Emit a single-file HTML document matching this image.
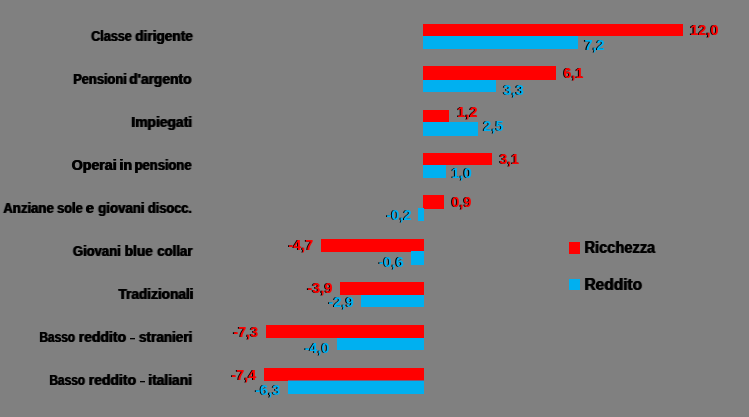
<!DOCTYPE html>
<html><head><meta charset="utf-8"><style>
html,body{margin:0;padding:0;}
body{width:749px;height:417px;background:#808080;position:relative;overflow:hidden;font-family:"Liberation Sans",sans-serif;font-weight:bold;}
.t{position:absolute;white-space:pre;line-height:1;transform-origin:0 0;text-shadow:-1px 0 0 #000;will-change:transform;}
svg{position:absolute;left:0;top:0;}
</style></head><body>
<svg width="749" height="417" viewBox="0 0 749 417">
<rect x="423" y="24" width="260" height="12" fill="#FF0000"/>
<rect x="423" y="36" width="155" height="13" fill="#00B0F0"/>
<rect x="423" y="66" width="133" height="14" fill="#FF0000"/>
<rect x="423" y="80" width="73" height="12" fill="#00B0F0"/>
<rect x="423" y="110" width="26" height="12" fill="#FF0000"/>
<rect x="423" y="122" width="55" height="14" fill="#00B0F0"/>
<rect x="423" y="153" width="69" height="12" fill="#FF0000"/>
<rect x="423" y="165" width="23" height="13" fill="#00B0F0"/>
<rect x="423" y="195" width="21" height="14" fill="#FF0000"/>
<rect x="418" y="208" width="6" height="13" fill="#00B0F0"/>
<rect x="321" y="239" width="103" height="13" fill="#FF0000"/>
<rect x="411" y="251" width="13" height="14" fill="#00B0F0"/>
<rect x="340" y="282" width="84" height="13" fill="#FF0000"/>
<rect x="361" y="295" width="63" height="12" fill="#00B0F0"/>
<rect x="266" y="325" width="158" height="13" fill="#FF0000"/>
<rect x="337" y="338" width="87" height="12" fill="#00B0F0"/>
<rect x="264" y="368" width="160" height="13" fill="#FF0000"/>
<rect x="288" y="380.5" width="136" height="13.5" fill="#00B0F0"/>
<rect x="569" y="242" width="11" height="12" fill="#FF0000"/>
<rect x="569" y="279" width="11" height="11" fill="#00B0F0"/>
<rect x="130" y="338" width="5" height="1.3" fill="#000"/>
<rect x="140" y="381" width="5" height="1.3" fill="#000"/>
</svg>
<div class="t" style="left:91px;top:29px;font-size:14px;color:#000;transform:translateX(0.61px) scaleX(0.9007)">Classe</div>
<div class="t" style="left:135px;top:29px;font-size:14px;color:#000;transform:translateX(0.69px) scaleX(0.9756)">dirigente</div>
<div class="t" style="left:73px;top:72px;font-size:14px;color:#000;transform:translateX(0.70px) scaleX(0.9174)">Pensioni</div>
<div class="t" style="left:129px;top:72px;font-size:14px;color:#000;transform:translateX(0.69px) scaleX(0.9845)">d'argento</div>
<div class="t" style="left:131px;top:115px;font-size:14px;color:#000;transform:translateX(0.79px) scaleX(0.9899)">Impiegati</div>
<div class="t" style="left:72px;top:158px;font-size:14px;color:#000;transform:translateX(0.35px) scaleX(1.0080)">Operai</div>
<div class="t" style="left:120px;top:158px;font-size:14px;color:#000;transform:translateX(0.00px) scaleX(1.0044)">in</div>
<div class="t" style="left:135px;top:158px;font-size:14px;color:#000;transform:translateX(0.08px) scaleX(0.9261)">pensione</div>
<div class="t" style="left:3px;top:201px;font-size:14px;color:#000;transform:translateX(0.78px) scaleX(0.9399)">Anziane</div>
<div class="t" style="left:57px;top:201px;font-size:14px;color:#000;transform:translateX(0.54px) scaleX(0.9157)">sole</div>
<div class="t" style="left:86px;top:201px;font-size:14px;color:#000;transform:translateX(0.39px) scaleX(1.0275)">e</div>
<div class="t" style="left:98px;top:201px;font-size:14px;color:#000;transform:translateX(0.66px) scaleX(0.9472)">giovani</div>
<div class="t" style="left:148px;top:201px;font-size:14px;color:#000;transform:translateX(0.36px) scaleX(0.9130)">disocc.</div>
<div class="t" style="left:73px;top:244px;font-size:14px;color:#000;transform:translateX(0.36px) scaleX(0.9315)">Giovani</div>
<div class="t" style="left:125px;top:244px;font-size:14px;color:#000;transform:translateX(0.21px) scaleX(0.9724)">blue</div>
<div class="t" style="left:157px;top:244px;font-size:14px;color:#000;transform:translateX(0.70px) scaleX(0.9431)">collar</div>
<div class="t" style="left:118px;top:287px;font-size:14px;color:#000;transform:translateX(0.94px) scaleX(0.9748)">Tradizionali</div>
<div class="t" style="left:39px;top:330px;font-size:14px;color:#000;transform:translateX(0.85px) scaleX(0.8459)">Basso</div>
<div class="t" style="left:79px;top:330px;font-size:14px;color:#000;transform:translateX(0.26px) scaleX(0.9961)">reddito</div>
<div class="t" style="left:139px;top:330px;font-size:14px;color:#000;transform:translateX(0.42px) scaleX(0.9669)">stranieri</div>
<div class="t" style="left:49px;top:373px;font-size:14px;color:#000;transform:translateX(0.85px) scaleX(0.8459)">Basso</div>
<div class="t" style="left:89px;top:373px;font-size:14px;color:#000;transform:translateX(0.26px) scaleX(0.9961)">reddito</div>
<div class="t" style="left:148px;top:373px;font-size:14px;color:#000;transform:translateX(0.70px) scaleX(0.9870)">italiani</div>
<div class="t" style="left:690px;top:23px;font-size:14px;color:#FF0000;transform:translateX(0.13px) scaleX(1.0453)">12,0</div>
<div class="t" style="left:584px;top:38px;font-size:14px;color:#00B0F0;transform:translateX(0.40px) scaleX(1.0455)">7,2</div>
<div class="t" style="left:563px;top:66px;font-size:14px;color:#FF0000;transform:translateX(0.47px) scaleX(1.0292)">6,1</div>
<div class="t" style="left:503px;top:83px;font-size:14px;color:#00B0F0;transform:translateX(0.34px) scaleX(1.0567)">3,3</div>
<div class="t" style="left:457px;top:105px;font-size:14px;color:#FF0000;transform:translateX(0.27px) scaleX(1.0442)">1,2</div>
<div class="t" style="left:483px;top:119px;font-size:14px;color:#00B0F0;transform:translateX(0.34px) scaleX(1.0421)">2,5</div>
<div class="t" style="left:499px;top:152px;font-size:14px;color:#FF0000;transform:translateX(0.45px) scaleX(1.0145)">3,1</div>
<div class="t" style="left:451px;top:166px;font-size:14px;color:#00B0F0;transform:translateX(0.49px) scaleX(1.0414)">1,0</div>
<div class="t" style="left:451px;top:195px;font-size:14px;color:#FF0000;transform:translateX(0.55px) scaleX(1.0273)">0,9</div>
<div class="t" style="left:386px;top:208px;font-size:14px;color:#00B0F0;transform:translateX(0.48px) scaleX(1.0461)">-0,2</div>
<div class="t" style="left:288px;top:238px;font-size:14px;color:#FF0000;transform:translateX(0.47px) scaleX(1.0251)">-4,7</div>
<div class="t" style="left:378px;top:255px;font-size:14px;color:#00B0F0;transform:translateX(0.78px) scaleX(1.0315)">-0,6</div>
<div class="t" style="left:307px;top:281px;font-size:14px;color:#FF0000;transform:translateX(0.40px) scaleX(1.0459)">-3,9</div>
<div class="t" style="left:328px;top:295px;font-size:14px;color:#00B0F0;transform:translateX(0.61px) scaleX(1.0419)">-2,9</div>
<div class="t" style="left:233px;top:325px;font-size:14px;color:#FF0000;transform:translateX(0.40px) scaleX(1.0354)">-7,3</div>
<div class="t" style="left:304px;top:341px;font-size:14px;color:#00B0F0;transform:translateX(0.84px) scaleX(1.0143)">-4,0</div>
<div class="t" style="left:231px;top:368px;font-size:14px;color:#FF0000;transform:translateX(0.45px) scaleX(1.0331)">-7,4</div>
<div class="t" style="left:255px;top:383px;font-size:14px;color:#00B0F0;transform:translateX(0.20px) scaleX(1.0406)">-6,3</div>
<div class="t" style="left:584px;top:240px;font-size:16.8px;color:#000;transform:translateX(0.97px) scaleX(0.8698)">Ricchezza</div>
<div class="t" style="left:584px;top:277px;font-size:16.8px;color:#000;transform:translateX(0.97px) scaleX(0.9218)">Reddito</div>
</body></html>
